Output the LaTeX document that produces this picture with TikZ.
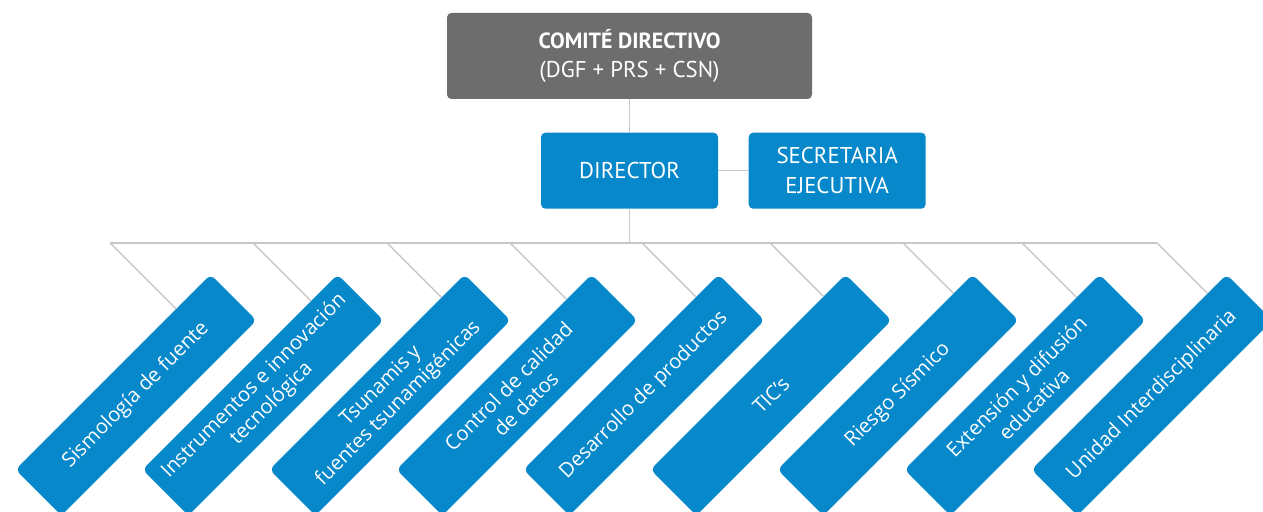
\documentclass[tikz,border=0pt]{standalone}
\usepackage{fontspec}
\setmainfont{Open Sans}
\newfontfamily\cabfont{PT Sans}
\usetikzlibrary{positioning}

\definecolor{azul}{HTML}{0788CB}
\definecolor{gris}{HTML}{6D6D6D}
\definecolor{tenue}{HTML}{C8C8C8}

\tikzset{
  comite/.style={fill=gris, rounded corners=2.5pt, text=white, align=center,
    minimum width=73mm, minimum height=17.2mm, inner sep=2pt,
    font=\cabfont\fontsize{13}{16.5}\selectfont},
  cargo/.style={fill=azul, rounded corners=2.5pt, text=white, align=center,
    minimum width=35.4mm, minimum height=15.2mm, inner sep=2pt,
    font=\cabfont\fontsize{13}{17}\selectfont},
  area/.style={fill=azul, rounded corners=3.5pt, text=white, align=center,
    rotate=45, minimum width=55.2mm, minimum height=13mm, inner sep=2pt,
    font=\fontsize{11.5}{14}\selectfont},
  rama/.style={draw=tenue, line width=0.8pt},
}

\begin{document}
\begin{tikzpicture}[x=0.2mm, y=0.2mm]
  \useasboundingbox (0,0) rectangle (1263,512);

  % cabecera
  \node[comite] (cd) at (629.5,456) {{\bfseries\fontsize{12.5}{16.5}\selectfont COMITÉ DIRECTIVO}\\(DGF + PRS + CSN)};
  \node[cargo, below=6.6mm of cd] (dir) {DIRECTOR};
  \node[cargo, right=6mm of dir] (sec) {SECRETARIA\\EJECUTIVA};

  \draw[rama] (cd.south) -- (dir.north);
  \draw[rama] (dir.east) -- (sec.west);

  % areas
  \foreach \x/\s/\t [count=\i] in {
      136/110/{Sismología de fuente},
      263/253/{Instrumentos e innovación\\tecnológica},
      390/387/{Tsunamis y\\fuentes tsunamigénicas},
      517/510/{Control de calidad\\de datos},
      644/642/{Desarrollo de productos},
      771/770/{TIC’s},
      898/903/{Riesgo Sísmico},
      1025/1022/{Extensión y difusión\\educativa},
      1152/1157/{Unidad Interdisciplinaria}} {
    \node[area] (s\i) at (\x,117) {\t};
    \coordinate (b\i) at (\s,269);
    \coordinate (c\i) at (\s+100,169);
    \coordinate (p\i) at (s\i.north west);
    \coordinate (q\i) at (s\i.north east);
    \draw[rama] (b\i) -- (intersection cs: first line={(b\i)--(c\i)}, second line={(p\i)--(q\i)});
  }

  \coordinate (bc) at (dir.south |- b1);
  \draw[rama] (dir.south) -- (bc);
  \draw[rama] (b1) -- (b9);
\end{tikzpicture}
\end{document}
